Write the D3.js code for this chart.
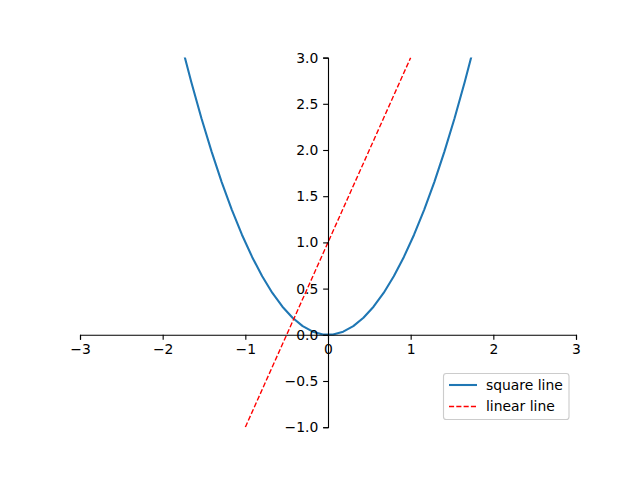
<!DOCTYPE html>
<html lang="en">
<head>
<meta charset="UTF-8">
<title>square and linear</title>
<style>
	body { margin: 0; background: #fff; }
	text { font-family: "DejaVu Sans", sans-serif; }
</style>
</head>
<body>
<svg id="chart" width="640" height="480"></svg>
<script src="https://cdn.jsdelivr.net/npm/d3@7/dist/d3.min.js"></script>
<script>
	// points
	var squareX = [-1.898, -1.776, -1.653, -1.531, -1.408, -1.286, -1.163, -1.041, -0.918, -0.796, -0.673, -0.551, -0.429, -0.306, -0.184, -0.061,
	               0.061, 0.184, 0.306, 0.429, 0.551, 0.673, 0.796, 0.918, 1.041, 1.163, 1.286, 1.408, 1.531, 1.653, 1.776, 1.898];
	var squareY = [3.603, 3.153, 2.733, 2.343, 1.983, 1.653, 1.353, 1.083, 0.843, 0.633, 0.453, 0.304, 0.184, 0.094, 0.034, 0.004,
	               0.004, 0.034, 0.094, 0.184, 0.304, 0.453, 0.633, 0.843, 1.083, 1.353, 1.653, 1.983, 2.343, 2.733, 3.153, 3.603];
	var linearX = [-1, 1];
	var linearY = [-1, 3];
	var xTicks = [-3, -2, -1, 0, 1, 2, 3];
	var yTicks = [-1, -0.5, 0, 0.5, 1, 1.5, 2, 2.5, 3];
	var legendLabels = ["square line", "linear line"];

	var svg = d3.select("#chart");
	var pLeft = 80, pRight = 576, pTop = 57.6, pBottom = 427.2;
	var x = d3.scaleLinear().domain([-3, 3]).range([pLeft, pRight]);
	var y = d3.scaleLinear().domain([-1, 3]).range([pBottom, pTop]);

	svg.append("defs").append("clipPath").attr("id", "clip")
		.append("rect").attr("x", pLeft).attr("y", pTop).attr("width", pRight - pLeft).attr("height", pBottom - pTop);

	var line = d3.line().x(d => x(d[0])).y(d => y(d[1]));
	var plot = svg.append("g").attr("clip-path", "url(#clip)");

	plot.append("path")
		.datum(squareX.map((v, i) => [v, squareY[i]]))
		.attr("d", line)
		.attr("fill", "none")
		.attr("stroke", "#1f77b4")
		.attr("stroke-width", 2.08)
		.attr("stroke-linejoin", "round")
		.attr("stroke-linecap", "square");

	plot.append("path")
		.datum(linearX.map((v, i) => [v, linearY[i]]))
		.attr("d", line)
		.attr("fill", "none")
		.attr("stroke", "red")
		.attr("stroke-width", 1.39)
		.attr("stroke-dasharray", "5.1,2.2");

	// spines through the origin
	var xAxis = d3.axisBottom(x).tickValues(xTicks).tickSize(4.86).tickPadding(4.86)
		.tickFormat(d => d < 0 ? "\u2212" + Math.abs(d) : d);
	var yAxis = d3.axisLeft(y).tickValues(yTicks).tickSize(4.86).tickPadding(4.86)
		.tickFormat(d => (d < 0 ? "\u2212" : "") + Math.abs(d).toFixed(1));

	var gx = svg.append("g").attr("transform", "translate(0," + y(0) + ")").call(xAxis);
	var gy = svg.append("g").attr("transform", "translate(" + x(0) + ",0)").call(yAxis);
	[gx, gy].forEach(g => {
		g.select(".domain").attr("stroke", "#000").attr("stroke-width", 1.11);
		g.selectAll(".tick line").attr("stroke", "#000").attr("stroke-width", 1.11);
		g.selectAll(".tick text").attr("fill", "#000").style("font-size", "13.9px")
			.style("font-family", "'DejaVu Sans', sans-serif");
	});

	// legend
	var lg = svg.append("g");
	lg.append("rect")
		.attr("x", 443.5).attr("y", 373.5).attr("width", 125.5).attr("height", 46)
		.attr("rx", 2.8).attr("fill", "#fff").attr("fill-opacity", 0.8)
		.attr("stroke", "#cccccc").attr("stroke-width", 1.11);
	var styles = [
		{ c: "#1f77b4", w: 2.08, dash: null },
		{ c: "red", w: 1.39, dash: "5.1,2.2" }
	];
	legendLabels.forEach((t, i) => {
		var cy = 385 + i * 21.5;
		lg.append("line")
			.attr("x1", 449).attr("x2", 477).attr("y1", cy).attr("y2", cy)
			.attr("stroke", styles[i].c).attr("stroke-width", styles[i].w)
			.attr("stroke-dasharray", styles[i].dash);
		lg.append("text")
			.attr("x", 486).attr("y", cy).attr("dy", "0.35em")
			.style("font-size", "13.9px").attr("fill", "#000")
			.text(t);
	});
</script>
</body>
</html>
